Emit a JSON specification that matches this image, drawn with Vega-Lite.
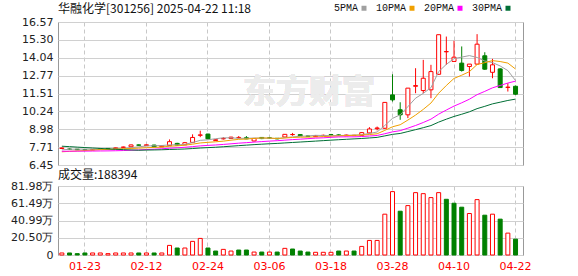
{
  "$schema": "https://vega.github.io/schema/vega-lite/v6.json",
  "background": "white",
  "padding": {"left": 0, "top": 2, "right": 0, "bottom": 0},
  "spacing": 21,
  "bounds": "flush",
  "config": {
    "view": {"stroke": "#999999", "strokeWidth": 1},
    "axis": {"labelFont": "DejaVu Sans", "labelFontSize": 11, "labelColor": "#222222", "ticks": false, "domain": false, "title": null, "labelOverlap": false},
    "title": {"font": "Noto Sans CJK SC", "fontSize": 12, "fontWeight": "normal", "color": "#111111", "anchor": "start", "frame": "group"}
  },
  "datasets": {
    "k": [
      {"date": "01-20", "open": 7.62, "high": 7.68, "low": 7.58, "close": 7.65, "volume": 24000, "ma5": 7.52, "ma10": 7.385, "ma20": 7.42, "ma30": 7.78},
      {"date": "01-21", "open": 7.58, "high": 7.62, "low": 7.52, "close": 7.56, "volume": 24000, "ma5": 7.562, "ma10": 7.416, "ma20": 7.425, "ma30": 7.749},
      {"date": "01-22", "open": 7.57, "high": 7.58, "low": 7.50, "close": 7.53, "volume": 16000, "ma5": 7.578, "ma10": 7.444, "ma20": 7.429, "ma30": 7.716},
      {"date": "01-23", "open": 7.54, "high": 7.56, "low": 7.49, "close": 7.52, "volume": 24000, "ma5": 7.572, "ma10": 7.471, "ma20": 7.432, "ma30": 7.684},
      {"date": "01-24", "open": 7.52, "high": 7.57, "low": 7.50, "close": 7.55, "volume": 24000, "ma5": 7.562, "ma10": 7.501, "ma20": 7.437, "ma30": 7.652},
      {"date": "01-27", "open": 7.58, "high": 7.60, "low": 7.54, "close": 7.57, "volume": 24000, "ma5": 7.546, "ma10": 7.533, "ma20": 7.443, "ma30": 7.621},
      {"date": "02-05", "open": 7.62, "high": 7.63, "low": 7.55, "close": 7.58, "volume": 16000, "ma5": 7.55, "ma10": 7.556, "ma20": 7.449, "ma30": 7.59},
      {"date": "02-06", "open": 7.60, "high": 7.68, "low": 7.58, "close": 7.66, "volume": 24000, "ma5": 7.576, "ma10": 7.577, "ma20": 7.459, "ma30": 7.562},
      {"date": "02-07", "open": 7.70, "high": 7.75, "low": 7.67, "close": 7.72, "volume": 24000, "ma5": 7.616, "ma10": 7.594, "ma20": 7.473, "ma30": 7.536},
      {"date": "02-10", "open": 7.74, "high": 7.89, "low": 7.72, "close": 7.87, "volume": 24000, "ma5": 7.68, "ma10": 7.621, "ma20": 7.493, "ma30": 7.515},
      {"date": "02-11", "open": 7.87, "high": 7.90, "low": 7.82, "close": 7.85, "volume": 24000, "ma5": 7.736, "ma10": 7.641, "ma20": 7.513, "ma30": 7.494},
      {"date": "02-12", "open": 7.82, "high": 7.90, "low": 7.80, "close": 7.88, "volume": 24000, "ma5": 7.796, "ma10": 7.673, "ma20": 7.545, "ma30": 7.508},
      {"date": "02-13", "open": 7.86, "high": 7.88, "low": 7.72, "close": 7.74, "volume": 24000, "ma5": 7.812, "ma10": 7.694, "ma20": 7.569, "ma30": 7.517},
      {"date": "02-14", "open": 7.74, "high": 7.82, "low": 7.72, "close": 7.80, "volume": 24000, "ma5": 7.828, "ma10": 7.722, "ma20": 7.597, "ma30": 7.529},
      {"date": "02-17", "open": 7.82, "high": 8.26, "low": 7.80, "close": 8.10, "volume": 114000, "ma5": 7.874, "ma10": 7.777, "ma20": 7.639, "ma30": 7.55},
      {"date": "02-18", "open": 7.98, "high": 8.02, "low": 7.82, "close": 7.86, "volume": 83000, "ma5": 7.876, "ma10": 7.806, "ma20": 7.67, "ma30": 7.564},
      {"date": "02-19", "open": 7.88, "high": 8.08, "low": 7.86, "close": 8.03, "volume": 83000, "ma5": 7.906, "ma10": 7.851, "ma20": 7.704, "ma30": 7.583},
      {"date": "02-20", "open": 8.05, "high": 8.62, "low": 8.00, "close": 8.40, "volume": 162000, "ma5": 8.038, "ma10": 7.925, "ma20": 7.751, "ma30": 7.615},
      {"date": "02-21", "open": 8.55, "high": 8.88, "low": 8.42, "close": 8.58, "volume": 197000, "ma5": 8.194, "ma10": 8.011, "ma20": 7.803, "ma30": 7.652},
      {"date": "02-24", "open": 8.64, "high": 8.66, "low": 8.26, "close": 8.30, "volume": 83000, "ma5": 8.234, "ma10": 8.054, "ma20": 7.838, "ma30": 7.68},
      {"date": "02-25", "open": 8.18, "high": 8.28, "low": 8.15, "close": 8.24, "volume": 47000, "ma5": 8.31, "ma10": 8.093, "ma20": 7.867, "ma30": 7.706},
      {"date": "02-26", "open": 8.30, "high": 8.42, "low": 8.25, "close": 8.33, "volume": 67000, "ma5": 8.37, "ma10": 8.138, "ma20": 7.906, "ma30": 7.742},
      {"date": "02-27", "open": 8.33, "high": 8.45, "low": 8.30, "close": 8.42, "volume": 47000, "ma5": 8.374, "ma10": 8.206, "ma20": 7.95, "ma30": 7.781},
      {"date": "02-28", "open": 8.38, "high": 8.50, "low": 8.33, "close": 8.40, "volume": 59000, "ma5": 8.338, "ma10": 8.266, "ma20": 7.994, "ma30": 7.82},
      {"date": "03-03", "open": 8.38, "high": 8.50, "low": 8.28, "close": 8.30, "volume": 59000, "ma5": 8.338, "ma10": 8.286, "ma20": 8.032, "ma30": 7.855},
      {"date": "03-04", "open": 8.15, "high": 8.35, "low": 8.12, "close": 8.33, "volume": 35000, "ma5": 8.356, "ma10": 8.333, "ma20": 8.07, "ma30": 7.891},
      {"date": "03-05", "open": 8.40, "high": 8.42, "low": 8.28, "close": 8.32, "volume": 35000, "ma5": 8.354, "ma10": 8.362, "ma20": 8.107, "ma30": 7.923},
      {"date": "03-06", "open": 8.37, "high": 8.40, "low": 8.30, "close": 8.35, "volume": 35000, "ma5": 8.34, "ma10": 8.357, "ma20": 8.141, "ma30": 7.953},
      {"date": "03-07", "open": 8.34, "high": 8.36, "low": 8.27, "close": 8.30, "volume": 35000, "ma5": 8.32, "ma10": 8.329, "ma20": 8.17, "ma30": 7.978},
      {"date": "03-10", "open": 8.43, "high": 8.64, "low": 8.40, "close": 8.62, "volume": 79000, "ma5": 8.384, "ma10": 8.361, "ma20": 8.208, "ma30": 8.012},
      {"date": "03-11", "open": 8.60, "high": 8.72, "low": 8.52, "close": 8.61, "volume": 71000, "ma5": 8.44, "ma10": 8.398, "ma20": 8.246, "ma30": 8.044},
      {"date": "03-12", "open": 8.60, "high": 8.62, "low": 8.50, "close": 8.52, "volume": 47000, "ma5": 8.48, "ma10": 8.417, "ma20": 8.278, "ma30": 8.076},
      {"date": "03-13", "open": 8.50, "high": 8.53, "low": 8.45, "close": 8.48, "volume": 35000, "ma5": 8.506, "ma10": 8.423, "ma20": 8.315, "ma30": 8.108},
      {"date": "03-14", "open": 8.46, "high": 8.54, "low": 8.44, "close": 8.52, "volume": 32000, "ma5": 8.55, "ma10": 8.435, "ma20": 8.351, "ma30": 8.141},
      {"date": "03-17", "open": 8.53, "high": 8.60, "low": 8.50, "close": 8.55, "volume": 32000, "ma5": 8.536, "ma10": 8.46, "ma20": 8.373, "ma30": 8.174},
      {"date": "03-18", "open": 8.60, "high": 8.65, "low": 8.55, "close": 8.58, "volume": 32000, "ma5": 8.53, "ma10": 8.485, "ma20": 8.409, "ma30": 8.208},
      {"date": "03-19", "open": 8.58, "high": 8.62, "low": 8.50, "close": 8.54, "volume": 47000, "ma5": 8.534, "ma10": 8.507, "ma20": 8.435, "ma30": 8.24},
      {"date": "03-20", "open": 8.52, "high": 8.60, "low": 8.50, "close": 8.57, "volume": 47000, "ma5": 8.552, "ma10": 8.529, "ma20": 8.443, "ma30": 8.27},
      {"date": "03-21", "open": 8.53, "high": 8.58, "low": 8.50, "close": 8.55, "volume": 47000, "ma5": 8.558, "ma10": 8.554, "ma20": 8.442, "ma30": 8.298},
      {"date": "03-24", "open": 8.55, "high": 8.78, "low": 8.52, "close": 8.74, "volume": 102000, "ma5": 8.596, "ma10": 8.566, "ma20": 8.464, "ma30": 8.327},
      {"date": "03-25", "open": 8.72, "high": 9.13, "low": 8.68, "close": 9.00, "volume": 173000, "ma5": 8.68, "ma10": 8.605, "ma20": 8.502, "ma30": 8.365},
      {"date": "03-26", "open": 9.02, "high": 9.17, "low": 8.90, "close": 9.07, "volume": 173000, "ma5": 8.786, "ma10": 8.66, "ma20": 8.539, "ma30": 8.405},
      {"date": "03-27", "open": 9.05, "high": 10.88, "low": 9.00, "close": 10.88, "volume": 485000, "ma5": 9.248, "ma10": 8.9, "ma20": 8.662, "ma30": 8.51},
      {"date": "03-28", "open": 11.41, "high": 12.87, "low": 10.94, "close": 11.06, "volume": 753000, "ma5": 9.75, "ma10": 9.154, "ma20": 8.795, "ma30": 8.618},
      {"date": "03-31", "open": 10.36, "high": 10.89, "low": 9.65, "close": 10.00, "volume": 520000, "ma5": 10.002, "ma10": 9.299, "ma20": 8.88, "ma30": 8.682},
      {"date": "04-01", "open": 10.00, "high": 11.89, "low": 9.77, "close": 11.89, "volume": 587000, "ma5": 10.58, "ma10": 9.63, "ma20": 9.058, "ma30": 8.816},
      {"date": "04-02", "open": 12.02, "high": 13.30, "low": 11.53, "close": 12.07, "volume": 741000, "ma5": 11.18, "ma10": 9.983, "ma20": 9.245, "ma30": 8.951},
      {"date": "04-03", "open": 11.72, "high": 13.89, "low": 11.53, "close": 12.59, "volume": 729000, "ma5": 11.522, "ma10": 10.385, "ma20": 9.457, "ma30": 9.09},
      {"date": "04-07", "open": 11.77, "high": 13.54, "low": 11.18, "close": 13.06, "volume": 682000, "ma5": 11.922, "ma10": 10.836, "ma20": 9.695, "ma30": 9.24},
      {"date": "04-08", "open": 12.87, "high": 15.67, "low": 12.83, "close": 15.67, "volume": 741000, "ma5": 13.056, "ma10": 11.529, "ma20": 10.048, "ma30": 9.485},
      {"date": "04-09", "open": 14.46, "high": 15.54, "low": 13.54, "close": 14.48, "volume": 662000, "ma5": 13.574, "ma10": 12.077, "ma20": 10.341, "ma30": 9.693},
      {"date": "04-10", "open": 13.78, "high": 15.24, "low": 13.78, "close": 14.08, "volume": 615000, "ma5": 13.976, "ma10": 12.578, "ma20": 10.619, "ma30": 9.885},
      {"date": "04-11", "open": 13.66, "high": 14.84, "low": 13.06, "close": 13.14, "volume": 568000, "ma5": 14.086, "ma10": 12.804, "ma20": 10.852, "ma30": 10.042},
      {"date": "04-14", "open": 13.42, "high": 13.59, "low": 12.71, "close": 13.59, "volume": 493000, "ma5": 14.192, "ma10": 13.057, "ma20": 11.106, "ma30": 10.215},
      {"date": "04-15", "open": 13.59, "high": 15.71, "low": 13.54, "close": 15.00, "volume": 658000, "ma5": 14.058, "ma10": 13.557, "ma20": 11.428, "ma30": 10.439},
      {"date": "04-16", "open": 14.18, "high": 14.43, "low": 13.18, "close": 13.23, "volume": 473000, "ma5": 13.808, "ma10": 13.691, "ma20": 11.661, "ma30": 10.602},
      {"date": "04-17", "open": 13.01, "high": 13.96, "low": 12.59, "close": 13.54, "volume": 485000, "ma5": 13.7, "ma10": 13.838, "ma20": 11.911, "ma30": 10.776},
      {"date": "04-18", "open": 13.25, "high": 13.30, "low": 11.93, "close": 11.93, "volume": 426000, "ma5": 13.458, "ma10": 13.772, "ma20": 12.079, "ma30": 10.895},
      {"date": "04-21", "open": 11.94, "high": 12.24, "low": 11.65, "close": 11.96, "volume": 260000, "ma5": 13.132, "ma10": 13.662, "ma20": 12.249, "ma30": 11.017},
      {"date": "04-22", "open": 12.02, "high": 12.07, "low": 11.41, "close": 11.46, "volume": 188394, "ma5": 12.424, "ma10": 13.241, "ma20": 12.385, "ma30": 11.112}
    ]
  },
  "vconcat": [
    {
      "width": 465,
      "height": 143,
      "data": {"name": "k"},
      "title": {"text": "华融化学[301256] 2025-04-22 11:18", "baseline": "bottom", "offset": -12},
      "layer": [
        {
          "mark": {"type": "text", "text": "东方财富", "font": "Noto Sans CJK SC", "fontSize": 33, "fontWeight": "bold", "fill": "#ececec", "align": "center", "baseline": "middle", "dx": 1},
          "encoding": {
            "x": {"datum": "03-13", "type": "ordinal", "bandPosition": 0.5},
            "y": {"datum": 11.58, "type": "quantitative", "axis": {"values": [6.45, 7.71, 8.98, 10.24, 11.51, 12.77, 14.04, 15.3, 16.57], "tickCount": 20, "format": ".2f", "grid": true, "gridColor": "#d0d0d0", "labelPadding": 5, "labelOverlap": false}}
          }
        },
        {
          "mark": {"type": "rule", "strokeWidth": 1},
          "encoding": {
            "x": {"field": "date", "type": "ordinal", "bandPosition": 0.5,
              "scale": {"type": "band", "paddingInner": 0, "paddingOuter": 0.235, "align": 0},
              "axis": {"values": ["01-23", "02-12", "02-24", "03-06", "03-18", "03-28", "04-10", "04-22"], "labels": false, "grid": true, "gridDash": [4, 3], "gridColor": "#c8c8c8", "bandPosition": 0.5}},
            "y": {"field": "low", "type": "quantitative",
              "scale": {"domain": [6.45, 16.57], "nice": false, "zero": false},
              "axis": {"values": [6.45, 7.71, 8.98, 10.24, 11.51, 12.77, 14.04, 15.3, 16.57], "tickCount": 20, "format": ".2f", "grid": true, "gridColor": "#d0d0d0", "labelPadding": 5, "labelOverlap": false}},
            "y2": {"field": "high"},
            "color": {"condition": {"test": "datum.close >= datum.open", "value": "#ff0000"}, "value": "#008000"}
          }
        },
        {
          "mark": {"type": "bar", "size": 4, "strokeWidth": 1},
          "encoding": {
            "x": {"field": "date", "type": "ordinal"},
            "y": {"field": "open", "type": "quantitative"},
            "y2": {"field": "close"},
            "fill": {"condition": {"test": "datum.close >= datum.open", "value": "#ffffff"}, "value": "#008000"},
            "stroke": {"condition": {"test": "datum.close >= datum.open", "value": "#ff0000"}, "value": "#008000"}
          }
        },
        {
          "transform": [{"fold": ["ma5", "ma10", "ma20", "ma30"], "as": ["ma", "value"]}],
          "mark": {"type": "line", "strokeWidth": 1},
          "encoding": {
            "x": {"field": "date", "type": "ordinal", "bandPosition": 0.5},
            "y": {"field": "value", "type": "quantitative"},
            "color": {"field": "ma", "type": "nominal",
              "scale": {"domain": ["ma5", "ma10", "ma20", "ma30"], "range": ["#a0a0a0", "#f0a000", "#ff00ff", "#006f35"]},
              "legend": {"orient": "none", "direction": "horizontal", "legendX": 301, "legendY": -19, "title": null, "padding": 0,
                "symbolType": "square", "symbolSize": 1, "symbolStrokeWidth": 4,
                "labelFont": "Liberation Mono", "labelFontSize": 10, "labelColor": "#111111",
                "labelAlign": "right", "labelOffset": -11, "columnPadding": 2,
                "labelExpr": "{'ma5': '5PMA', 'ma10': '10PMA', 'ma20': '20PMA', 'ma30': '30PMA'}[datum.label]"}}
          }
        }
      ]
    },
    {
      "width": 465,
      "height": 69,
      "data": {"name": "k"},
      "title": {"text": "成交量:188394", "baseline": "bottom", "offset": -14},
      "transform": [{"window": [{"op": "lag", "field": "close", "as": "prev"}], "sort": [{"field": "date"}]}],
      "mark": {"type": "bar", "size": 4, "strokeWidth": 1},
      "encoding": {
        "x": {"field": "date", "type": "ordinal",
          "scale": {"type": "band", "paddingInner": 0, "paddingOuter": 0.235, "align": 0},
          "axis": {"values": ["01-23", "02-12", "02-24", "03-06", "03-18", "03-28", "04-10", "04-22"], "labelAngle": 0, "labelColor": "#ff0000", "labelPadding": 5, "grid": true, "gridDash": [4, 3], "gridColor": "#c8c8c8", "bandPosition": 0.5}},
        "y": {"field": "volume", "type": "quantitative",
          "scale": {"domain": [0, 819800], "nice": false},
          "axis": {"values": [0, 205000, 409900, 614900, 819800], "tickCount": 20, "labelExpr": "datum.value == 0 ? '0' : format(datum.value / 10000, '.2f') + '万'", "grid": true, "gridColor": "#d0d0d0", "labelPadding": 5, "labelOverlap": false,
            "title": "|", "titleOpacity": 0, "titleAngle": 0, "titleX": -57, "titleY": 34, "titleAlign": "left", "titleBaseline": "middle"}},
        "fill": {"condition": {"test": "datum.prev == null || datum.close >= datum.prev", "value": "#ffffff"}, "value": "#008000"},
        "stroke": {"condition": {"test": "datum.prev == null || datum.close >= datum.prev", "value": "#ff0000"}, "value": "#008000"}
      }
    }
  ]
}
